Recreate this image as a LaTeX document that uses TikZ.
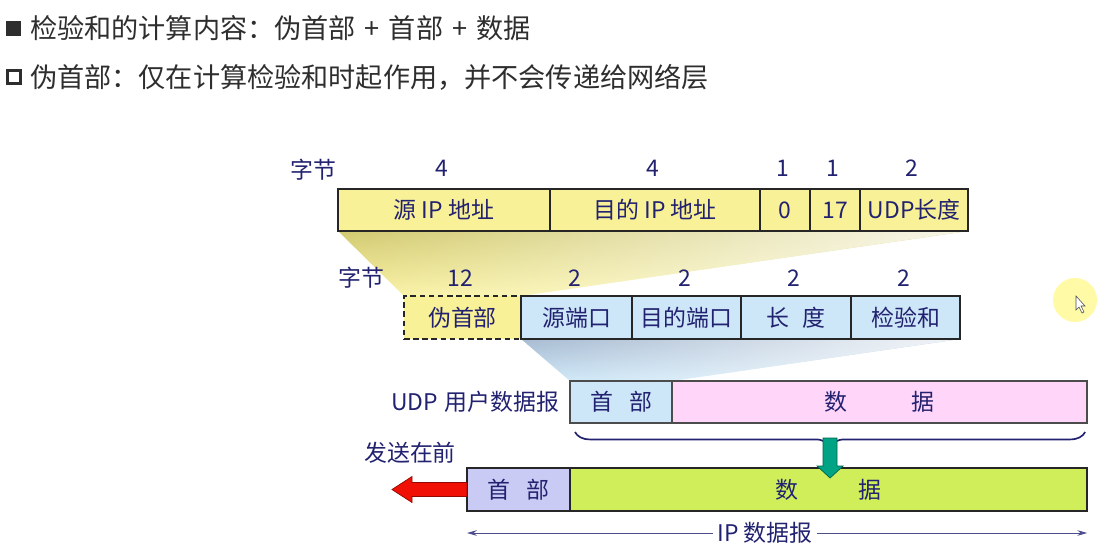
\documentclass[tikz,border=0pt]{standalone}
\usepackage{fontspec}
\usepackage{xcolor}
\usetikzlibrary{positioning}
\usetikzlibrary{calc}
\usetikzlibrary{backgrounds}
\usetikzlibrary{fadings}
\usetikzlibrary{arrows.meta}
\usetikzlibrary{decorations.pathreplacing}
\newfontfamily\cjk{Noto Sans CJK SC}
\newcommand\diagfont{\cjk\fontsize{16.3}{19}\selectfont}
\newcommand\headfont{\cjk\fontsize{19.3}{23}\selectfont}
\newcommand\plussep{\hspace{0.33em}+\hspace{0.33em}}
\definecolor{navy}{HTML}{222270}
\definecolor{headgrey}{HTML}{2E2E2E}
\definecolor{ipyellow}{HTML}{F9F197}
\definecolor{funyellow}{HTML}{D2CA70}
\definecolor{udpblue}{HTML}{CDE7F8}
\definecolor{funblue}{HTML}{A8BCD2}
\definecolor{udppink}{HTML}{FFD6FA}
\definecolor{hdrlavender}{HTML}{CACBF4}
\definecolor{datalime}{HTML}{CFEE5A}
\definecolor{downgreen}{HTML}{00A383}
\definecolor{sendred}{HTML}{F01005}
\tikzfading[name=fadetoright, left color=transparent!100, right color=transparent!15]

\begin{document}
\begin{tikzpicture}[x=0.025cm, y=-0.025cm,
    cell/.style={draw=black!85, line width=1pt, inner sep=0pt, outer sep=0pt,
                 minimum height=1.05cm, font=\diagfont, text=navy},
    num/.style={font=\diagfont, text=navy, inner sep=1pt},
    dimline/.style={draw=navy!80, line width=0.6pt, -{Stealth[length=7pt, width=4pt]}}]
    \useasboundingbox (0,0) rectangle (1097,558);

    \fill[headgrey] (6,21) rectangle (21,36);
    \draw[headgrey, line width=2.4pt] (7.5,70.5) rectangle (20.5,83.5);
    \node[anchor=west, font=\headfont, text=headgrey, inner sep=0pt] (line1) at (30,28) {检验和的计算内容：伪首部\plussep 首部\plussep 数据};
    \node[anchor=west, font=\headfont, text=headgrey, inner sep=0pt] (line2) at (30,77) {伪首部：仅在计算检验和时起作用，并不会传递给网络层};

    \node[cell, fill=ipyellow, minimum width=5.3cm, anchor=north west] (srcip) at (338,189) {源 IP 地址};
    \node[cell, fill=ipyellow, minimum width=5.25cm, right=0pt of srcip] (dstip) {目的 IP 地址};
    \node[cell, fill=ipyellow, minimum width=1.25cm, right=0pt of dstip] (zero) {0};
    \node[cell, fill=ipyellow, minimum width=1.25cm, right=0pt of zero] (proto) {17};
    \node[cell, fill=ipyellow, minimum width=2.7cm, right=0pt of proto] (udplen) {UDP长度};
    \node[num] (bytes1) at (313,170) {字节};
    \foreach \c/\n in {srcip/4, dstip/4, zero/1, proto/1, udplen/2}
        \node[num] at ($(\c.north)+(-2,-21)$) {\n};

    \node[cell, dash pattern=on 4pt off 2.5pt, fill=ipyellow, minimum width=2.925cm, minimum height=1.075cm, anchor=north west] (pseudo) at (404,296) {伪首部};
    \node[cell, fill=udpblue, minimum width=2.775cm, minimum height=1.075cm, right=0pt of pseudo] (srcport) {源端口};
    \node[cell, fill=udpblue, minimum width=2.725cm, minimum height=1.075cm, right=0pt of srcport] (dstport) {目的端口};
    \node[cell, fill=udpblue, minimum width=2.75cm, minimum height=1.075cm, right=0pt of dstport] (len) {长\hspace{0.6em}度};
    \node[cell, fill=udpblue, minimum width=2.725cm, minimum height=1.075cm, right=0pt of len] (chk) {检验和};
    \node[num] (bytes2) at (361,278) {字节};
    \foreach \c/\n in {pseudo/12, srcport/2, dstport/2, len/2, chk/2}
        \node[num] at ($(\c.north)+(-2,-18)$) {\n};

    \node[cell, draw=black!70, fill=udpblue, minimum width=2.55cm, anchor=north west] (udphdr) at (570,381) {首\hspace{0.7em}部};
    \node[cell, draw=black!70, fill=udppink, minimum width=10.375cm, right=0pt of udphdr] (udpdata) {数\hspace{2.8em}据};
    \node[num, left=0.22cm of udphdr] (udplabel) {UDP\hspace{0.3em}用户数据报};

    \coordinate (braceL) at ($(udphdr.south west)+(5,9)$);
    \coordinate (braceR) at ($(udpdata.south east)+(-2,9)$);
    \draw[navy, line width=1.2pt, decorate, decoration={brace, mirror, amplitude=0.37cm}] (braceL) -- (braceR);

    \node[cell, fill=hdrlavender, minimum width=2.575cm, minimum height=1.075cm, anchor=north west] (iphdr) at (467,468) {首\hspace{0.7em}部};
    \node[cell, fill=datalime, minimum width=12.925cm, minimum height=1.075cm, right=0pt of iphdr] (ipdata) {数\hspace{2.65em}据};

    \coordinate (gtop) at ($(braceL)!0.5!(braceR)+(0,6)$);
    \draw[fill=downgreen, draw=downgreen!60!black, line width=0.5pt] ($(gtop)+(-7,0)$) -- ++(14,0) -- ++(0,28) -- ++(6,0)
        -- ++(-13,12) -- ++(-13,-12) -- ++(6,0) -- cycle;
    \draw[fill=sendred, draw=sendred!60!black, line width=0.5pt] ($(iphdr.west)+(0,-7)$) -- ++(-55,0) -- ++(0,-6) -- ++(-20,13)
        -- ++(20,13) -- ++(0,-6) -- ++(55,0) -- cycle;
    \node[num] (sendfirst) at (410,453) {发送在前};

    \node[num, inner sep=3pt] (iplabel) at (765,533) {IP 数据报};
    \draw[dimline] (iplabel) -- (iplabel -| iphdr.west);
    \draw[dimline] (iplabel) -- (iplabel -| ipdata.east);

    \begin{scope}[on background layer]
        \shade[top color=funyellow, bottom color=ipyellow!90] (srcip.south west) -- (udplen.south east) -- (pseudo.north east) -- (pseudo.north west) -- cycle;
        \fill[white, path fading=fadetoright] (srcip.south west) -- (udplen.south east) -- (pseudo.north east) -- (pseudo.north west) -- cycle;
        \shade[top color=funblue, bottom color=udpblue] (srcport.south west) -- (chk.south east) -- (udphdr.north east) -- (udphdr.north west) -- cycle;
        \fill[white, path fading=fadetoright] (srcport.south west) -- (chk.south east) -- (udphdr.north east) -- (udphdr.north west) -- cycle;
        \fill[yellow!35] (1075,300) circle (22);
    \end{scope}
    \draw[fill=white, draw=black!70, line width=0.4pt] (1076,296) -- (1076,310) -- (1079,307) -- (1082,313) -- (1084,312) -- (1081,306) -- (1085,306) -- cycle;
\end{tikzpicture}
\end{document}
